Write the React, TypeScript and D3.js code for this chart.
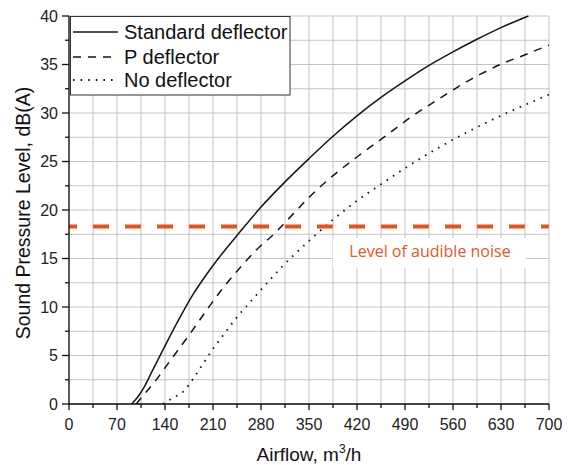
import React from "react";
import * as d3 from "d3";

const xTicks = [0, 70, 140, 210, 280, 350, 420, 490, 560, 630, 700];
const yTicks = [0, 5, 10, 15, 20, 25, 30, 35, 40];

const standardX = [91, 100, 110, 120, 140, 160, 180, 200, 220, 250, 280, 315, 350, 385, 420, 455, 490, 525, 560, 595, 630, 670];
const standardY = [0, 0.7, 1.8, 3.2, 6.0, 8.7, 11.2, 13.3, 15.2, 17.8, 20.3, 22.9, 25.3, 27.6, 29.7, 31.6, 33.3, 34.9, 36.3, 37.6, 38.8, 40];

const pX = [98, 106, 125, 150, 175, 200, 225, 250, 275, 300, 327, 350, 376, 415, 463, 497, 536, 565, 600, 629, 665, 700];
const pY = [0, 0.7, 2.3, 4.7, 7.1, 9.6, 12.0, 14.1, 16.0, 17.6, 19.6, 21.3, 23.0, 25.2, 27.7, 29.5, 31.3, 32.6, 34.0, 35.0, 36.0, 37.0];

const noX = [137, 142.5, 154.6, 166.7, 181, 196, 210, 225, 242, 259, 276, 293, 310, 327, 356, 385, 417, 458, 492, 536, 580, 629, 677, 700];
const noY = [0, 0.25, 0.75, 1.27, 2.6, 4.2, 5.7, 7.1, 8.7, 10.1, 11.45, 12.8, 14.1, 15.3, 17.2, 19.0, 20.8, 22.8, 24.4, 26.3, 28.0, 29.7, 31.2, 31.9];

const seriesNames = ["Standard deflector", "P deflector", "No deflector"];
const audibleLevel = 18.3;
const audibleLabel = "Level of audible noise";

export default function App() {
  const W = 569, H = 465;
  const left = 69, right = 549, top = 16, bottom = 404;
  const x = d3.scaleLinear().domain([0, 700]).range([left, right]);
  const y = d3.scaleLinear().domain([0, 40]).range([bottom, top]);

  const gridX = d3.range(0, 701, 35);
  const gridY = d3.range(0, 40.01, 2.5);

  const line = d3
    .line<[number, number]>()
    .x((d) => x(d[0]))
    .y((d) => y(d[1]))
    .curve(d3.curveMonotoneX);

  const zip = (a: number[], b: number[]) => a.map((v, i) => [v, b[i]] as [number, number]);

  const series = [
    { data: zip(standardX, standardY), dash: "none", w: 1.5 },
    { data: zip(pX, pY), dash: "8 7", w: 1.5 },
    { data: zip(noX, noY), dash: "1.6 6", w: 1.8 },
  ];

  const font = "'Liberation Sans', Arial, sans-serif";

  return (
    <svg width={W} height={H} style={{ position: "absolute", left: 0, top: 0, background: "#fff" }} fontFamily={font}>
      <rect x={0} y={0} width={W} height={H} fill="#fff" />
      {/* grid */}
      <g stroke="#c4c4c4" strokeWidth={1}>
        {gridX.map((v) => (
          <line key={"gx" + v} x1={x(v)} x2={x(v)} y1={y(0)} y2={y(40)} />
        ))}
        {gridY.map((v) => (
          <line key={"gy" + v} x1={x(0)} x2={x(700)} y1={y(v)} y2={y(v)} />
        ))}
      </g>
      {/* label box */}
      <rect x={333} y={238} width={193} height={30} fill="#fff" />
      {/* curves */}
      {series.map((s, i) => (
        <path
          key={i}
          d={line(s.data) || ""}
          fill="none"
          stroke="#151515"
          strokeWidth={s.w}
          strokeDasharray={s.dash}
        />
      ))}
      {/* audible line */}
      <line
        x1={x(0)}
        x2={x(700)}
        y1={y(audibleLevel)}
        y2={y(audibleLevel)}
        stroke="#e8521f"
        strokeWidth={4}
        strokeDasharray="16 16"
        strokeDashoffset={8}
      />
      <text x={430} y={257} textAnchor="middle" fontFamily="'Open Sans', sans-serif" fontSize={16} fill="#e4572a">
        {audibleLabel}
      </text>
      {/* axes */}
      <g stroke="#111" strokeWidth={1.3}>
        <line x1={left} x2={left} y1={top} y2={bottom} />
        <line x1={left} x2={right} y1={bottom} y2={bottom} />
        {gridX.map((v, i) => (
          <line key={"tx" + v} x1={x(v)} x2={x(v)} y1={bottom} y2={bottom + (i % 2 === 0 ? 6 : 4)} />
        ))}
        {gridY.map((v, i) => (
          <line key={"ty" + v} x1={left} x2={left - (i % 2 === 0 ? 7 : 4)} y1={y(v)} y2={y(v)} />
        ))}
      </g>
      {xTicks.map((v) => (
        <text key={"lx" + v} x={x(v)} y={430} textAnchor="middle" fontSize={16} fill="#222">
          {v}
        </text>
      ))}
      {yTicks.map((v) => (
        <text key={"ly" + v} x={58} y={y(v)} dy="0.36em" textAnchor="end" fontSize={16} fill="#222">
          {v}
        </text>
      ))}
      {/* axis titles */}
      <text x={309} y={461} textAnchor="middle" fontSize={19} fill="#111">
        Airflow, m
        <tspan fontSize={12} dy={-8}>3</tspan>
        <tspan dy={8}>/h</tspan>
      </text>
      <text
        transform={`translate(30, ${(top + bottom) / 2 + 3}) rotate(-90)`}
        textAnchor="middle"
        fontSize={19.5}
        fill="#111"
      >
        Sound Pressure Level, dB(A)
      </text>
      {/* legend */}
      <rect x={70.5} y={16.5} width={219.5} height={78.5} fill="#fff" stroke="#333" strokeWidth={1} />
      {seriesNames.map((n, i) => {
        const ly = [32, 57, 80][i];
        return (
          <g key={n}>
            <line
              x1={73}
              x2={118}
              y1={ly}
              y2={ly}
              stroke="#151515"
              strokeWidth={series[i].w}
              strokeDasharray={series[i].dash}
            />
            <text x={124} y={ly + 7} fontSize={20} fill="#111">
              {n}
            </text>
          </g>
        );
      })}
    </svg>
  );
}
